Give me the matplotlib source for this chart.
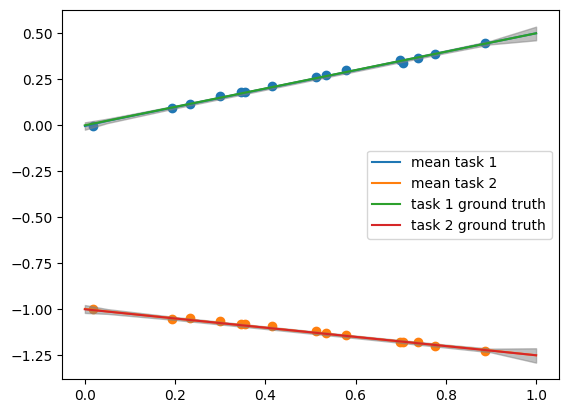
import matplotlib
matplotlib.use('agg')
import matplotlib.pyplot as plt

# training points
train_x = [0.017, 0.194, 0.233, 0.300, 0.346, 0.356, 0.415, 0.512, 0.534,
           0.579, 0.698, 0.706, 0.738, 0.777, 0.887]
train_y1 = [-0.004, 0.096, 0.114, 0.159, 0.179, 0.179, 0.212, 0.261, 0.273,
            0.300, 0.355, 0.340, 0.364, 0.386, 0.446]
train_y2 = [-0.998, -1.053, -1.047, -1.065, -1.080, -1.080, -1.091, -1.118, -1.129,
            -1.141, -1.179, -1.179, -1.176, -1.199, -1.228]

# predictive mean and confidence region
test_x = [0.0, 0.05, 0.2, 0.4, 0.6, 0.8, 0.9, 1.0]
mean1 = [-0.004, 0.024, 0.099, 0.199, 0.299, 0.400, 0.450, 0.500]
lower1 = [-0.024, 0.012, 0.092, 0.193, 0.293, 0.393, 0.440, 0.462]
upper1 = [0.016, 0.036, 0.106, 0.205, 0.305, 0.407, 0.460, 0.536]
mean2 = [-0.998, -1.012, -1.050, -1.100, -1.150, -1.200, -1.224, -1.250]
lower2 = [-1.020, -1.025, -1.058, -1.107, -1.157, -1.208, -1.234, -1.290]
upper2 = [-0.977, -0.999, -1.042, -1.093, -1.143, -1.192, -1.214, -1.212]

# ground truth
gt_x = [0.0, 1.0]
gt1 = [0.0, 0.5]
gt2 = [-1.0, -1.25]

fig = plt.figure(figsize=(5.68, 4.13), dpi=100)
ax = fig.add_axes([0.1097, 0.0823, 0.8738, 0.8928])

ax.scatter(train_x, train_y1, color='C0')
ax.scatter(train_x, train_y2, color='C1')
ax.plot(test_x, mean1, color='C0', label='mean task 1')
ax.plot(test_x, mean2, color='C1', label='mean task 2')
ax.plot(gt_x, gt1, color='C2', label='task 1 ground truth')
ax.plot(gt_x, gt2, color='C3', label='task 2 ground truth')
ax.fill_between(test_x, lower1, upper1, color='grey', alpha=0.5)
ax.fill_between(test_x, lower2, upper2, color='grey', alpha=0.5)

ax.set_xlim(-0.05, 1.05)
ax.set_ylim(-1.379, 0.625)
ax.legend(loc='center right')

fig.savefig('out.png', dpi=100)
